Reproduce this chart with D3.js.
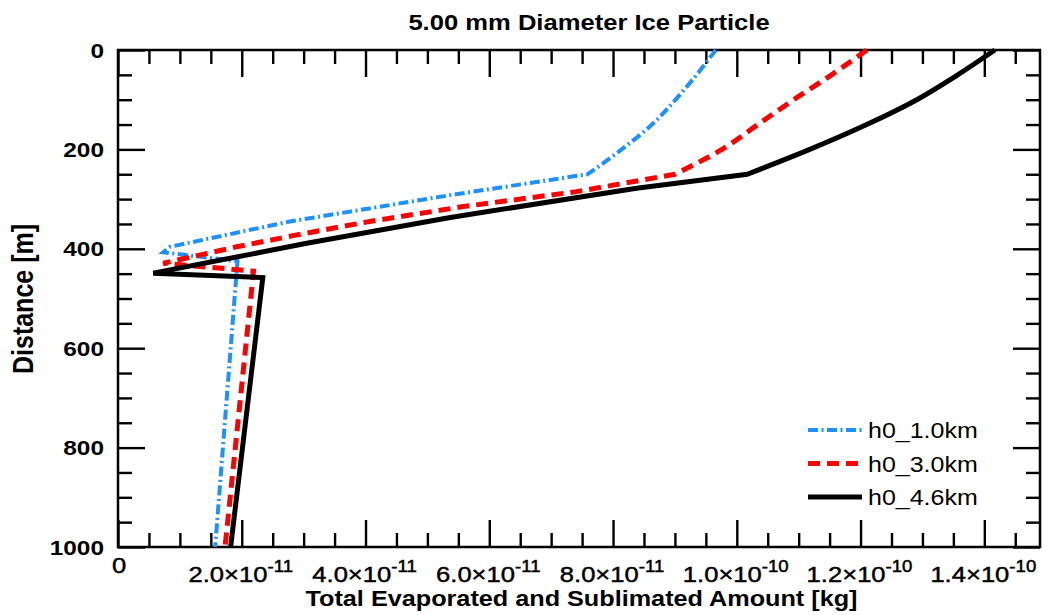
<!DOCTYPE html>
<html>
<head>
<meta charset="utf-8">
<script src="https://cdn.jsdelivr.net/npm/d3@7"></script>
<style>
  body { margin: 0; background: #fff; }
  svg { display: block; }
  text { font-family: "Liberation Sans", Arial, Helvetica, sans-serif; fill: #000; }
</style>
</head>
<body>
<svg id="chart" width="1047" height="615"></svg>
<script>
// ---- data: distance below release height [m] vs. cumulative mass lost [kg]
const depthH1 = [0, 50, 100, 150, 200, 250, 292, 345, 396, 407, 425, 1000];
const amountH1 = [9.66e-11, 9.35e-11, 9.01e-11, 8.63e-11, 8.14e-11, 7.59e-11,
                  5.37e-11, 2.78e-11, 0.84e-11, 0.73e-11, 1.93e-11, 1.57e-11];

const depthH3 = [0, 50, 100, 150, 200, 250, 285, 315, 345, 372, 396, 429, 445, 1000];
const amountH3 = [12.10e-11, 11.53e-11, 10.92e-11, 10.34e-11, 9.76e-11, 9.00e-11,
                  7.41e-11, 5.58e-11, 4.07e-11, 2.89e-11, 1.92e-11, 0.73e-11, 2.19e-11, 1.73e-11];

const depthH46 = [0, 50, 100, 150, 200, 250, 278, 337, 389, 449, 458, 1000];
const amountH46 = [14.17e-11, 13.57e-11, 12.91e-11, 12.10e-11, 11.18e-11, 10.17e-11,
                   8.38e-11, 5.37e-11, 3.05e-11, 0.57e-11, 2.34e-11, 1.82e-11];

const seriesNames = ["h0_1.0km", "h0_3.0km", "h0_4.6km"];

// depth down to which each profile is a smooth curve (linear segments below)
const smoothUntil = 250;

// ---- axis ticks and labels
const xMajorTicks = [0, 2e-11, 4e-11, 6e-11, 8e-11, 1.0e-10, 1.2e-10, 1.4e-10];
const xTickMantissa = ["0", "2.0×10", "4.0×10", "6.0×10", "8.0×10", "1.0×10", "1.2×10", "1.4×10"];
const xTickExponent = ["", "-11", "-11", "-11", "-11", "-10", "-10", "-10"];
const yMajorTicks = [0, 200, 400, 600, 800, 1000];

const titleText = "5.00 mm Diameter Ice Particle";
const xTitleText = "Total Evaporated and Sublimated Amount [kg]";
const yTitleText = "Distance [m]";

// ---- layout
const plot = { left: 118, right: 1040, top: 50, bottom: 547 };
const xMax = 1.49e-10;
const stretch = 1.163;          // horizontal widening of all lettering
const majorLen = 27, minorLen = 14;

const svg = d3.select("#chart");
svg.append("rect").attr("width", 1047).attr("height", 615).attr("fill", "#fff");

const x = d3.scaleLinear().domain([0, xMax]).range([plot.left, plot.right]);
const y = d3.scaleLinear().domain([0, 1000]).range([plot.top, plot.bottom]);

const xMinorTicks = d3.range(0, xMax, 0.5e-11).filter(v => Math.abs(v / 2e-11 - Math.round(v / 2e-11)) > 1e-6);
const yMinorTicks = d3.range(0, 1000, 50).filter(v => v % 200 !== 0);

// ---- tick marks on all four sides, pointing inward
function tickLayer(axisFn, pos, values, len) {
  const g = svg.append("g")
    .attr("transform", pos)
    .call(axisFn.tickValues(values).tickSize(-len).tickSizeOuter(0).tickFormat(""));
  g.select(".domain").remove();
  g.selectAll(".tick line").attr("stroke", "#000").attr("stroke-width", 2.4);
  return g;
}
tickLayer(d3.axisBottom(x), `translate(0,${plot.bottom})`, xMajorTicks, majorLen);
tickLayer(d3.axisBottom(x), `translate(0,${plot.bottom})`, xMinorTicks, minorLen);
tickLayer(d3.axisTop(x), `translate(0,${plot.top})`, xMajorTicks, majorLen);
tickLayer(d3.axisTop(x), `translate(0,${plot.top})`, xMinorTicks, minorLen);
tickLayer(d3.axisLeft(y), `translate(${plot.left},0)`, yMajorTicks, majorLen);
tickLayer(d3.axisLeft(y), `translate(${plot.left},0)`, yMinorTicks, minorLen);
tickLayer(d3.axisRight(y), `translate(${plot.right},0)`, yMajorTicks, majorLen);
tickLayer(d3.axisRight(y), `translate(${plot.right},0)`, yMinorTicks, minorLen);

// frame
svg.append("rect")
  .attr("x", plot.left).attr("y", plot.top)
  .attr("width", plot.right - plot.left).attr("height", plot.bottom - plot.top)
  .attr("fill", "none").attr("stroke", "#000").attr("stroke-width", 2.5);

// ---- tick labels
const yLab = svg.append("g");
yMajorTicks.forEach(v => {
  yLab.append("text")
    .attr("transform", `translate(104,${y(v) + 7.5}) scale(${stretch},1)`)
    .attr("text-anchor", "end")
    .attr("font-size", 21).attr("font-weight", "bold")
    .text(v);
});

const xLab = svg.append("g");
xMajorTicks.forEach((v, i) => {
  const base = xTickExponent[i] ? 582 : 573;
  const t = xLab.append("text")
    .attr("transform", `translate(${x(v) + (i === 0 ? 1 : -1)},${base}) scale(${stretch},1)`)
    .attr("text-anchor", "middle")
    .attr("font-size", 22)
    .attr("stroke", "#000").attr("stroke-width", 0.45);
  t.append("tspan").text(xTickMantissa[i]);
  if (xTickExponent[i]) {
    t.append("tspan").attr("font-size", 16).attr("dy", -10).text(xTickExponent[i]);
  }
});

// ---- titles
svg.append("text")
  .attr("transform", `translate(589,30) scale(${stretch},1)`)
  .attr("text-anchor", "middle").attr("font-size", 22).attr("font-weight", "bold")
  .text(titleText);

svg.append("text")
  .attr("transform", `translate(581.5,606) scale(${stretch},1)`)
  .attr("text-anchor", "middle").attr("font-size", 21.7).attr("font-weight", "bold")
  .text(xTitleText);

svg.append("text")
  .attr("transform", `translate(33,299) rotate(-90) scale(1,${stretch})`)
  .attr("text-anchor", "middle").attr("font-size", 25).attr("font-weight", "bold")
  .text(yTitleText);

// ---- curves
const series = [
  { name: seriesNames[0], depth: depthH1, amount: amountH1, color: "#1e90ff", width: 4, dash: "10,3.5,2,3.5" },
  { name: seriesNames[1], depth: depthH3, amount: amountH3, color: "#ff0000", width: 5, dash: "12,7" },
  { name: seriesNames[2], depth: depthH46, amount: amountH46, color: "#000000", width: 5, dash: null }
];

// smooth arc through the upper profile, straight segments through the rest
const smoothLine = d3.line().x(d => x(d[1])).y(d => y(d[0])).curve(d3.curveMonotoneY);
const straightLine = d3.line().x(d => x(d[1])).y(d => y(d[0])).curve(d3.curveLinear);

function profilePath(pts) {
  const upper = pts.filter(p => p[0] <= smoothUntil);
  const lower = pts.filter(p => p[0] >= smoothUntil);
  return smoothLine(upper) + straightLine(lower).replace(/^M/, "L");
}

const curves = svg.append("g");
series.forEach(s => {
  curves.append("path")
    .attr("d", profilePath(d3.zip(s.depth, s.amount)))
    .attr("fill", "none")
    .attr("stroke", s.color)
    .attr("stroke-width", s.width)
    .attr("stroke-dasharray", s.dash)
    .attr("stroke-linejoin", "miter");
});

// ---- legend
const legendRows = [430, 463.5, 497];
const legend = svg.append("g");
series.forEach((s, i) => {
  legend.append("line")
    .attr("x1", 808).attr("x2", 862)
    .attr("y1", legendRows[i]).attr("y2", legendRows[i])
    .attr("stroke", s.color).attr("stroke-width", s.width)
    .attr("stroke-dasharray", s.dash);
  legend.append("text")
    .attr("transform", `translate(868,${legendRows[i] + 8}) scale(${stretch},1)`)
    .attr("font-size", 21.5)
    .text(s.name);
});
</script>
</body>
</html>
